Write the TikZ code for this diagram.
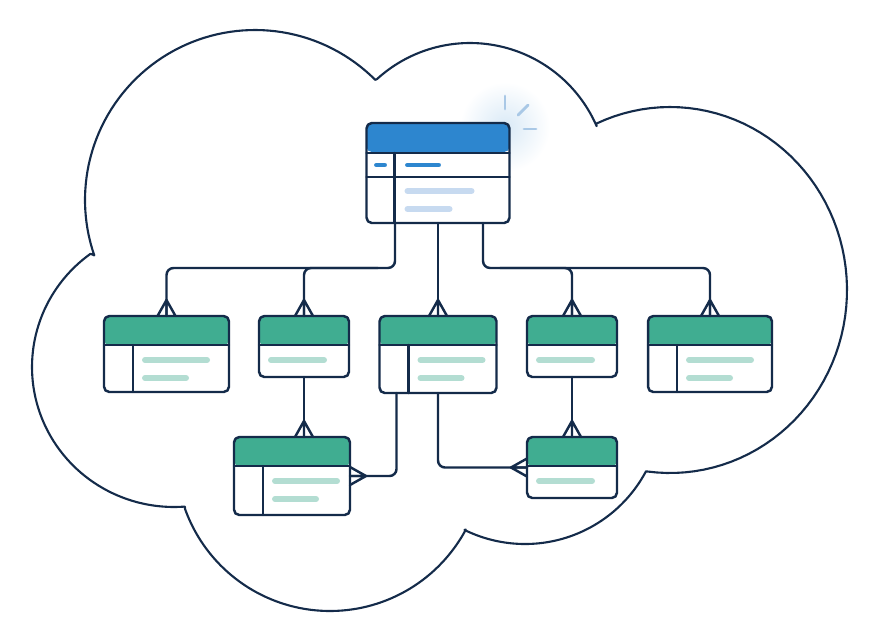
\documentclass[tikz,border=0pt]{standalone}
\usetikzlibrary{calc}

\definecolor{navy}{HTML}{142B4A}
\definecolor{headblue}{HTML}{2D86CF}
\definecolor{headgreen}{HTML}{40AD91}
\definecolor{barblue}{HTML}{C7DAF0}
\definecolor{bargreen}{HTML}{B3DDD2}
\definecolor{spark}{HTML}{A9C8E6}

\tikzset{
  table/.style={draw=navy, line width=1.4pt, rounded corners=3pt, fill=white,
    inner sep=0pt, outer sep=0pt},
  head/.style={path picture={\fill[#1] (path picture bounding box.north west)
    rectangle ([yshift=-0.58cm]path picture bounding box.north east);}},
  link/.style={draw=navy, line width=1.4pt, rounded corners=4pt},
  bar/.style={line width=3.4pt, line cap=round},
  crow/.pic={\draw[navy, line width=1.4pt, line join=round] (-9,0) -- (0,-16) -- (9,0) (0,0) -- (0,-16);}
}

\begin{document}
\begin{tikzpicture}[x=0.02cm, y=-0.02cm, line join=round, line cap=round]
\useasboundingbox (0,0) rectangle (892,633);

% cloud, one arc per lobe
\draw[navy, line width=1.2pt, samples=70]
  plot[domain=161:315] ({255+170*cos(\x)}, {200+170*sin(\x)})
  -- plot[domain=227.6:336.6] ({470+138*cos(\x)}, {181+138*sin(\x)})
  -- plot[domain=245.3:457.4] ({670+177*cos(\x)}, {290+183*sin(\x)})
  -- plot[domain=28:116.2] ({525+137*cos(\x)}, {407+137*sin(\x)})
  -- plot[domain=28.1:160.3] ({330+154*cos(\x)}, {457+154*sin(\x)})
  -- plot[domain=85.6:234] ({174+142*cos(\x)}, {367+140*sin(\x)})
  -- cycle;

% glow and sparkle
\shade[inner color=headblue!18, outer color=white] (505,127) circle (0.9cm);
\draw[spark, line width=1.6pt] (505,96) -- (505,109);
\draw[spark, line width=1.6pt] (518,115) -- (528,105);
\draw[spark, line width=1.6pt] (524,129) -- (536,129);

% tables
\node[table, head=headblue, minimum width=2.86cm, minimum height=2.0cm] (top) at (438,173) {};
\node[table, head=headgreen, minimum width=2.5cm, minimum height=1.52cm] (b1) at (166.5,354) {};
\node[table, head=headgreen, minimum width=1.8cm, minimum height=1.22cm] (b2) at (304,346.5) {};
\node[table, head=headgreen, minimum width=2.34cm, minimum height=1.54cm] (b3) at (438,354.5) {};
\node[table, head=headgreen, minimum width=1.8cm, minimum height=1.22cm] (b4) at (572,346.5) {};
\node[table, head=headgreen, minimum width=2.48cm, minimum height=1.52cm] (b5) at (710,354) {};
\node[table, head=headgreen, minimum width=2.32cm, minimum height=1.56cm] (b6) at (292,476) {};
\node[table, head=headgreen, minimum width=1.8cm, minimum height=1.22cm] (b7) at (572,467.5) {};

% top table rows
\draw[navy, line width=1.4pt] ($(top.north west)+(0,30)$) -- ($(top.north east)+(0,30)$);
\draw[navy, line width=1.4pt] ($(top.north west)+(0,54)$) -- ($(top.north east)+(0,54)$);
\draw[navy, line width=1.4pt] ($(top.north west)+(28,30)$) -- ($(top.south west)+(28,0)$);
\draw[bar, headblue, line width=2.8pt] ($(top.north west)+(10,42)$) -- ++(8,0);
\draw[bar, headblue, line width=2.8pt] ($(top.north west)+(41,42)$) -- ++(31,0);
\draw[bar, barblue] ($(top.north west)+(41,68)$) -- ++(64,0);
\draw[bar, barblue] ($(top.north west)+(41,86)$) -- ++(42,0);

% green tables
\foreach \b in {b1,b2,b3,b4,b5,b6,b7}
  \draw[navy, line width=1.4pt] ($(\b.north west)+(0,29)$) -- ($(\b.north east)+(0,29)$);
\foreach \b in {b1,b3,b5,b6} {
  \draw[navy, line width=1.4pt] ($(\b.north west)+(29,29)$) -- ($(\b.south west)+(29,0)$);
  \draw[bar, bargreen] ($(\b.north west)+(41,44)$) -- ++(62,0);
  \draw[bar, bargreen] ($(\b.north west)+(41,62)$) -- ++(41,0);
}
\foreach \b in {b2,b4,b7}
  \draw[bar, bargreen] ($(\b.north west)+(12,44)$) -- ++(53,0);

% links
\draw[link] ($(top.south)+(-43,0)$) -- ++(0,45) -| (b1.north);
\draw[link] ($(top.south)+(-60,45)$) -| (b2.north);
\draw[link] (top.south) -- (b3.north);
\draw[link] ($(top.south)+(45,0)$) -- ++(0,45) -| (b5.north);
\draw[link] ($(top.south)+(62,45)$) -| (b4.north);
\draw[link] (b2.south) -- (b2.south |- b6.north);
\draw[link] ($(b3.south west)+(17,0)$) |- (b6.east);
\draw[link] (b3.south) |- (b7.west);
\draw[link] (b4.south) -- (b4.south |- b7.north);

% crow's feet
\foreach \b in {b1,b2,b3,b4,b5}
  \pic at (\b.north) {crow};
\pic at (b2.south |- b6.north) {crow};
\pic at (b4.south |- b7.north) {crow};
\pic[rotate=-90] at (b6.east) {crow};
\pic[rotate=90] at (b7.west) {crow};
\end{tikzpicture}
\end{document}
